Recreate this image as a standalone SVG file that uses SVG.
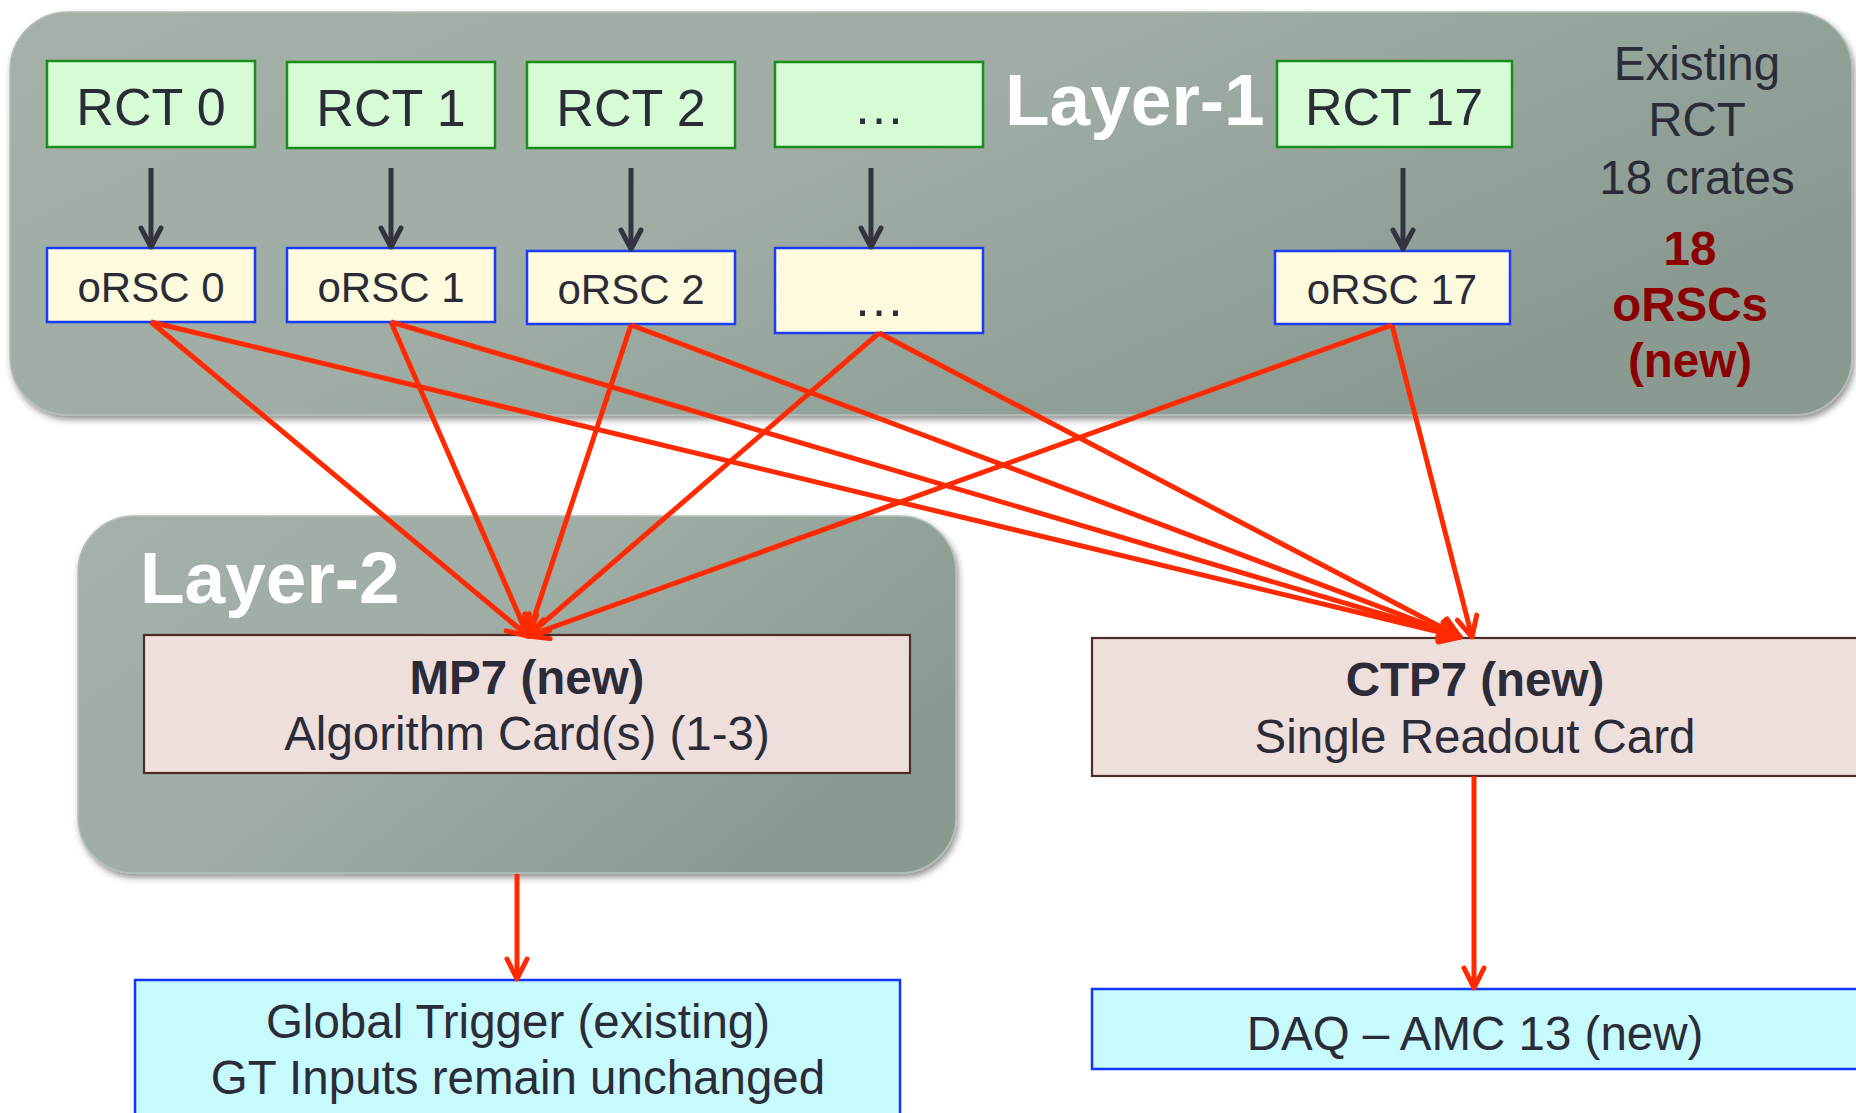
<svg xmlns="http://www.w3.org/2000/svg" width="1856" height="1113" viewBox="0 0 1856 1113">
  <defs>
    <linearGradient id="panelFill" x1="0" y1="0" x2="1" y2="0.5">
      <stop offset="0" stop-color="#a4b0a8"/>
      <stop offset="0.5" stop-color="#9fada5"/>
      <stop offset="1" stop-color="#8a9a90"/>
    </linearGradient>
    <filter id="panelShadow" x="-5%" y="-5%" width="110%" height="115%">
      <feDropShadow dx="2" dy="4" stdDeviation="3" flood-color="#2a2a2a" flood-opacity="0.5"/>
    </filter>
    <marker id="headDark" viewBox="-24 -14 28 28" markerWidth="28" markerHeight="28" refX="0" refY="0" orient="auto" markerUnits="userSpaceOnUse">
      <path d="M-19,-10 L0,0 L-19,10" fill="none" stroke="#33343f" stroke-width="5" stroke-linecap="round" stroke-linejoin="round"/>
    </marker>
    <marker id="headRed" viewBox="-24 -14 28 28" markerWidth="28" markerHeight="28" refX="0" refY="0" orient="auto" markerUnits="userSpaceOnUse">
      <path d="M-20,-10 L0,0 L-20,10" fill="none" stroke="#ff2a00" stroke-width="5" stroke-linecap="round" stroke-linejoin="round"/>
    </marker>
    <style>
      text { font-family: "Liberation Sans", Arial, Helvetica, sans-serif; fill: #2b2c38; }
      .panel { fill: url(#panelFill); stroke: #b4beb8; stroke-width: 1.5; filter: url(#panelShadow); }
      .layer { font-size: 73px; font-weight: bold; fill: #ffffff; }
      .rct { fill: #d6fcd6; stroke: #1c8c1c; stroke-width: 2.5; }
      .orsc { fill: #fefadd; stroke: #1a3cf5; stroke-width: 2.5; }
      .card { fill: #eedfdc; stroke: #4a2c28; stroke-width: 2.2; }
      .out { fill: #c6fafd; stroke: #1035ff; stroke-width: 2.5; }
      .big { font-size: 52px; text-anchor: middle; }
      .mid { font-size: 42px; text-anchor: middle; }
      .lbl { font-size: 47.5px; text-anchor: middle; }
      .bold { font-weight: bold; }
      .red { fill: #8b0000; font-weight: bold; }
      .dark { stroke: #33343f; stroke-width: 5; fill: none; marker-end: url(#headDark); }
      .flow { stroke: #ff2a00; stroke-width: 5; fill: none; marker-end: url(#headRed); }
    </style>
  </defs>

  <rect width="1856" height="1113" fill="#ffffff"/>

  <!-- Layer-1 backdrop -->
  <g id="layer1">
    <rect class="panel" x="10" y="12" width="1842" height="403" rx="58" ry="58"/>
    <text class="layer" x="1005" y="125">Layer-1</text>
  </g>

  <!-- Layer-2 backdrop -->
  <g id="layer2">
    <rect class="panel" x="78" y="516" width="878" height="357" rx="56" ry="56"/>
    <text class="layer" x="140" y="603">Layer-2</text>
  </g>

  <!-- RCT crates -->
  <g id="rct0"><rect class="rct" x="47" y="61" width="208" height="86"/><text class="big" x="151" y="125">RCT 0</text></g>
  <g id="rct1"><rect class="rct" x="287" y="62" width="208" height="86"/><text class="big" x="391" y="126">RCT 1</text></g>
  <g id="rct2"><rect class="rct" x="527" y="62" width="208" height="86"/><text class="big" x="631" y="126">RCT 2</text></g>
  <g id="rctDots"><rect class="rct" x="775" y="62" width="208" height="85"/><text class="big" x="879" y="124">…</text></g>
  <g id="rct17"><rect class="rct" x="1277" y="61" width="235" height="86"/><text class="big" x="1394" y="125">RCT 17</text></g>

  <!-- oRSC cards -->
  <g id="orsc0"><rect class="orsc" x="47" y="248" width="208" height="74"/><text class="mid" x="151" y="302">oRSC 0</text></g>
  <g id="orsc1"><rect class="orsc" x="287" y="248" width="208" height="74"/><text class="mid" x="391" y="302">oRSC 1</text></g>
  <g id="orsc2"><rect class="orsc" x="527" y="251" width="208" height="73"/><text class="mid" x="631" y="304">oRSC 2</text></g>
  <g id="orscDots"><rect class="orsc" x="775" y="248" width="208" height="85"/><text class="big" x="879" y="316">…</text></g>
  <g id="orsc17"><rect class="orsc" x="1275" y="251" width="235" height="73"/><text class="mid" x="1392" y="304">oRSC 17</text></g>

  <!-- side notes -->
  <g id="notes">
    <text class="lbl" x="1697" y="80">Existing</text>
    <text class="lbl" x="1697" y="136">RCT</text>
    <text class="lbl" x="1697" y="194">18 crates</text>
    <text class="lbl red" x="1690" y="265">18</text>
    <text class="lbl red" x="1690" y="321">oRSCs</text>
    <text class="lbl red" x="1690" y="377">(new)</text>
  </g>

  <!-- Layer-2 and readout cards -->
  <g id="mp7">
    <rect class="card" x="144" y="635" width="766" height="138"/>
    <text class="lbl bold" x="527" y="694">MP7 (new)</text>
    <text class="lbl" x="527" y="750">Algorithm Card(s) (1-3)</text>
  </g>
  <g id="ctp7">
    <rect class="card" x="1092" y="638" width="780" height="138"/>
    <text class="lbl bold" x="1475" y="696">CTP7 (new)</text>
    <text class="lbl" x="1475" y="753">Single Readout Card</text>
  </g>

  <!-- downstream systems -->
  <g id="gt">
    <rect class="out" x="135" y="980" width="765" height="150"/>
    <text class="lbl" x="518" y="1038">Global Trigger (existing)</text>
    <text class="lbl" x="518" y="1094">GT Inputs remain unchanged</text>
  </g>
  <g id="daq">
    <rect class="out" x="1092" y="989" width="780" height="80"/>
    <text class="lbl" x="1475" y="1050">DAQ – AMC 13 (new)</text>
  </g>

  <!-- connectors -->
  <g id="connectors">
    <line class="dark" x1="151" y1="168" x2="151" y2="247"/>
    <line class="dark" x1="391" y1="168" x2="391" y2="247"/>
    <line class="dark" x1="631" y1="168" x2="631" y2="249"/>
    <line class="dark" x1="871" y1="168" x2="871" y2="247"/>
    <line class="dark" x1="1403" y1="168" x2="1403" y2="249"/>

    <line class="flow" x1="151" y1="322" x2="528" y2="636"/>
    <line class="flow" x1="391" y1="322" x2="528" y2="636"/>
    <line class="flow" x1="631" y1="325" x2="528" y2="636"/>
    <line class="flow" x1="879" y1="333" x2="528" y2="636"/>
    <line class="flow" x1="1392" y1="325" x2="528" y2="636"/>

    <line class="flow" x1="151" y1="322" x2="1460" y2="637"/>
    <line class="flow" x1="391" y1="322" x2="1460" y2="637"/>
    <line class="flow" x1="631" y1="325" x2="1460" y2="637"/>
    <line class="flow" x1="879" y1="333" x2="1460" y2="637"/>
    <line class="flow" x1="1392" y1="325" x2="1472" y2="637"/>

    <line class="flow" x1="517" y1="874" x2="517" y2="979"/>
    <line class="flow" x1="1474" y1="776" x2="1474" y2="988"/>
  </g>
</svg>
